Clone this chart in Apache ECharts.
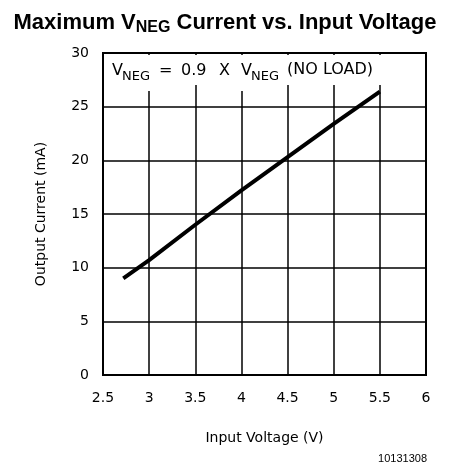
<!DOCTYPE html>
<html><head><meta charset="utf-8">
<script src="https://cdn.jsdelivr.net/npm/echarts@6/dist/echarts.min.js"></script>
<style>html,body{margin:0;padding:0;background:#fff}#c{width:450px;height:472px}</style>
</head><body><div id="c"></div>
<script>
const inputVoltage = [2.72, 3.0, 3.5, 4.0, 4.5, 5.0, 5.5];
const outputCurrent = [9.0, 10.7, 14.0, 17.2, 20.3, 23.4, 26.4];
const xTicks = [2.5, 3, 3.5, 4, 4.5, 5, 5.5, 6];
const yTicks = [0, 5, 10, 15, 20, 25, 30];

const chart = echarts.init(document.getElementById('c'));
const tickFont = {fontFamily: 'DejaVu Sans', fontSize: 14, color: '#000'};
const ann = {fontFamily: 'DejaVu Sans', fontSize: 16, fill: '#000', verticalAlign: 'middle'};
const sub = {fontFamily: 'DejaVu Sans', fontSize: 13, fill: '#000', verticalAlign: 'middle'};
chart.setOption({
  animation: false,
  backgroundColor: '#fff',
  title: {
    text: '{a|Maximum V}{s|NEG}{a| Current vs. Input Voltage}',
    left: 'center', top: 5,
    textStyle: {
      rich: {
        a: {fontFamily: 'Liberation Sans', fontWeight: 'bold', fontSize: 22, color: '#000', lineHeight: 26},
        s: {fontFamily: 'Liberation Sans', fontWeight: 'bold', fontSize: 16, color: '#000', lineHeight: 26, padding: [10, 0, 0, 0]}
      }
    }
  },
  grid: {left: 103, top: 53, width: 323, height: 322, show: true, borderColor: '#000', borderWidth: 2},
  xAxis: {
    type: 'value', min: xTicks[0], max: xTicks[xTicks.length - 1], interval: 0.5,
    name: 'Input Voltage (V)', nameLocation: 'middle', nameGap: 56,
    nameTextStyle: {fontFamily: 'DejaVu Sans', fontSize: 14, color: '#000'},
    axisLine: {show: true, lineStyle: {color: '#000', width: 2}},
    axisTick: {show: false},
    axisLabel: Object.assign({margin: 16, formatter: v => String(v)}, tickFont),
    splitLine: {show: true, lineStyle: {color: '#000', width: 1.5}}
  },
  yAxis: {
    type: 'value', min: yTicks[0], max: yTicks[yTicks.length - 1], interval: 5,
    name: 'Output Current (mA)', nameLocation: 'middle', nameGap: 55,
    nameTextStyle: {fontFamily: 'DejaVu Sans', fontSize: 14, color: '#000'},
    axisLine: {show: true, lineStyle: {color: '#000', width: 2}},
    axisTick: {show: false},
    axisLabel: Object.assign({margin: 14}, tickFont),
    splitLine: {show: true, lineStyle: {color: '#000', width: 1.5}}
  },
  series: [{
    type: 'line', data: inputVoltage.map((x, i) => [x, outputCurrent[i]]),
    showSymbol: false, lineStyle: {color: '#000', width: 4}, z: 5
  }],
  graphic: [
    {type: 'rect', left: 105, top: 55, shape: {width: 280, height: 30}, style: {fill: '#fff'}, z: 10},
    {type: 'rect', left: 120, top: 80, shape: {width: 32, height: 11}, style: {fill: '#fff'}, z: 10},
    {type: 'rect', left: 238, top: 80, shape: {width: 40, height: 11}, style: {fill: '#fff'}, z: 10},
    {type: 'text', z: 11, style: Object.assign({x: 112, y: 71, text: 'V'}, ann)},
    {type: 'text', z: 11, style: Object.assign({x: 122, y: 77, text: 'NEG'}, sub)},
    {type: 'text', z: 11, style: Object.assign({x: 159, y: 71, text: '='}, ann)},
    {type: 'text', z: 11, style: Object.assign({x: 181, y: 71, text: '0.9'}, ann)},
    {type: 'text', z: 11, style: Object.assign({x: 219, y: 71, text: 'X'}, ann)},
    {type: 'text', z: 11, style: Object.assign({x: 241, y: 71, text: 'V'}, ann)},
    {type: 'text', z: 11, style: Object.assign({x: 251, y: 77, text: 'NEG'}, sub)},
    {type: 'text', z: 11, style: Object.assign({x: 287, y: 70, text: '(NO LOAD)'}, ann)},
    {type: 'text', right: 23, top: 453, z: 11, style: {text: '10131308', fontFamily: 'Liberation Sans', fontSize: 11, fill: '#000'}}
  ]
});
</script></body></html>
